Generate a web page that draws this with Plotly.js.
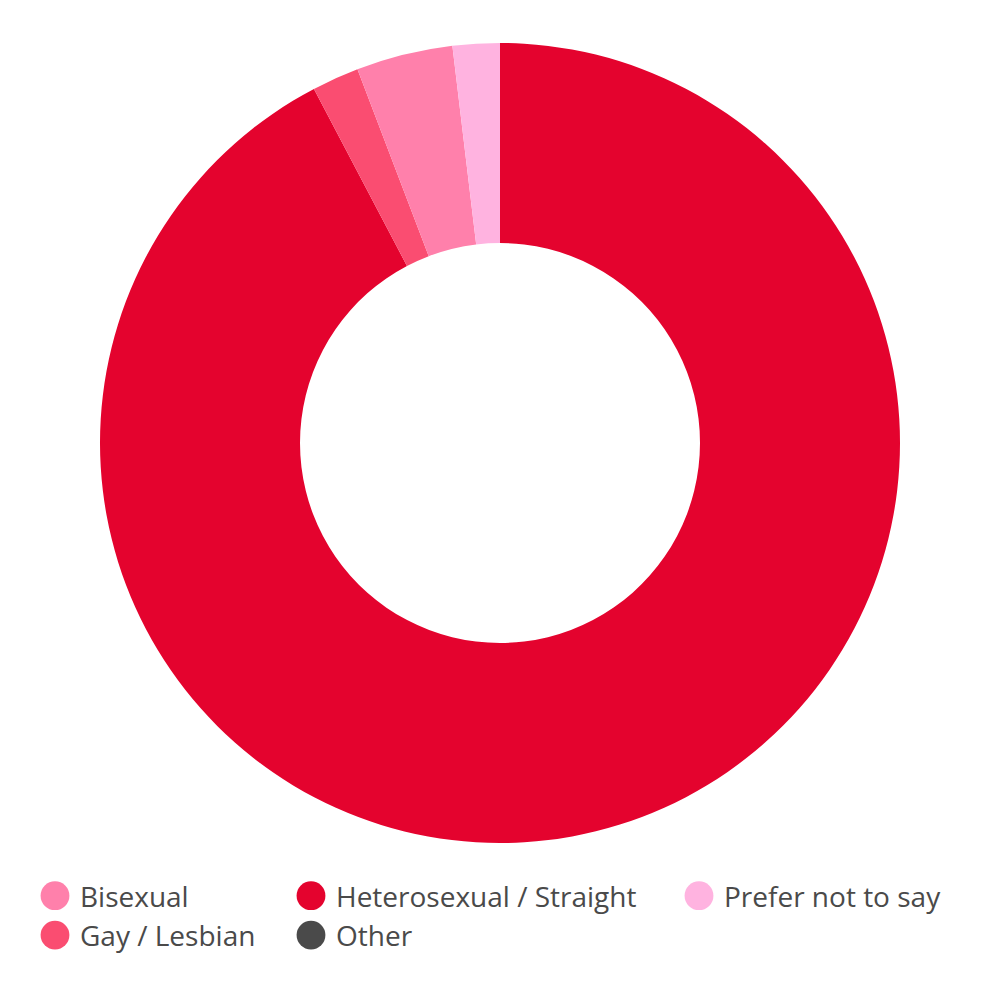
<!DOCTYPE html>
<html>
<head>
<meta charset="utf-8">
<script src="https://cdn.plot.ly/plotly-3.0.1.min.js"></script>
<style>html,body{margin:0;padding:0;background:#fff;}#chart{width:1000px;height:1000px;}</style>
</head>
<body>
<div id="chart"></div>
<script>
// Categories (legend order) and their shares (%)
const labels = ['Bisexual', 'Gay / Lesbian', 'Heterosexual / Straight', 'Other', 'Prefer not to say'];
const values = [3.9, 1.9, 92.3, 0, 1.9];
const colors = ['#FF80AB', '#FA4D71', '#E4032E', '#4A4A4A', '#FFB3E0'];
// Order in which slices are drawn (clockwise from 12 o'clock)
const sliceOrder = [2, 1, 0, 4, 3];
// Legend column assignment for each category
const legendColumn = ['legend', 'legend', 'legend2', 'legend2', 'legend3'];

const pie = {
  type: 'pie',
  labels: sliceOrder.map(i => labels[i]),
  values: sliceOrder.map(i => values[i]),
  marker: {colors: sliceOrder.map(i => colors[i]), line: {width: 0}},
  hole: 0.5,
  sort: false,
  direction: 'clockwise',
  rotation: 0,
  textinfo: 'none',
  hoverinfo: 'label+percent',
  showlegend: false,
  domain: {x: [0.1, 0.9], y: [0.157, 0.957]}
};

const legendTraces = labels.map((lab, i) => ({
  type: 'scatter',
  mode: 'markers',
  x: [null], y: [null],
  name: lab,
  legend: legendColumn[i],
  marker: {symbol: 'circle', size: 16, color: colors[i], line: {width: 0}},
  hoverinfo: 'skip',
  showlegend: true
}));

const legFont = {family: 'Open Sans, sans-serif', size: 28, color: '#4A4A4A'};
const legBase = {orientation: 'v', xanchor: 'left', yanchor: 'top', y: 0.129, font: legFont,
  itemwidth: 40, bgcolor: 'rgba(0,0,0,0)', borderwidth: 0, tracegroupgap: 0};

const layout = {
  width: 1000, height: 1000,
  margin: {l: 0, r: 0, t: 0, b: 0},
  paper_bgcolor: '#ffffff',
  plot_bgcolor: '#ffffff',
  font: {family: 'Open Sans, sans-serif', color: '#4A4A4A'},
  xaxis: {visible: false},
  yaxis: {visible: false},
  legend: Object.assign({}, legBase, {x: 0.030}),
  legend2: Object.assign({}, legBase, {x: 0.286}),
  legend3: Object.assign({}, legBase, {x: 0.674})
};

function enlargeLegendSymbols(gd) {
  gd.querySelectorAll('.legendpoints path.scatterpts').forEach(p => {
    const t = p.getAttribute('transform') || '';
    if (t.indexOf('scale') === -1) p.setAttribute('transform', t + ' scale(1.8)');
  });
}

Plotly.newPlot('chart', [pie].concat(legendTraces), layout, {displayModeBar: false}).then(gd => {
  enlargeLegendSymbols(gd);
  gd.on('plotly_afterplot', () => enlargeLegendSymbols(gd));
});
</script>
</body>
</html>
